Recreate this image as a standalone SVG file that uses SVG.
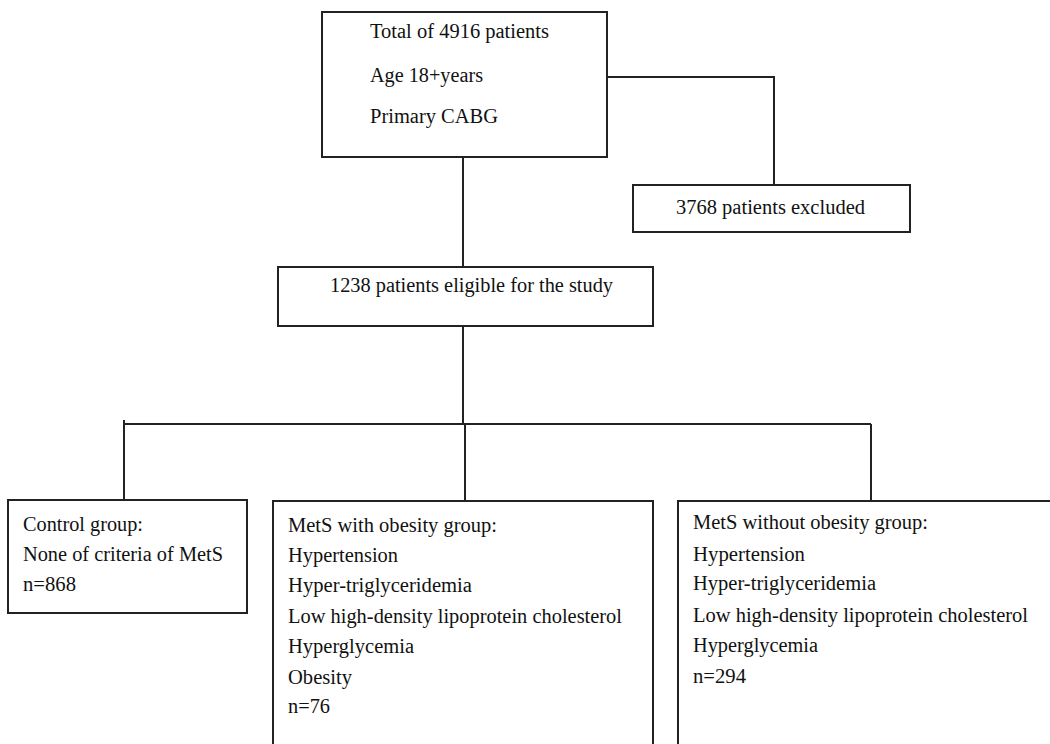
<svg xmlns="http://www.w3.org/2000/svg" width="1050" height="744" viewBox="0 0 1050 744">
<style>
.box{fill:#fff;stroke:#222;stroke-width:2}
.ln{fill:none;stroke:#222;stroke-width:2}
text{font-family:"Liberation Serif","Times New Roman",serif;font-size:20px;fill:#111}
</style>
<rect width="1050" height="744" fill="#fff"/>
<g id="connectors">
<polyline class="ln" points="607,77 774,77 774,185"/>
<line class="ln" x1="463" y1="157" x2="463" y2="267"/>
<line class="ln" x1="463" y1="326" x2="463" y2="424"/>
<line class="ln" x1="124" y1="424" x2="871" y2="424"/>
<line class="ln" x1="124" y1="420" x2="124" y2="500"/>
<line class="ln" x1="465" y1="424" x2="465" y2="501"/>
<line class="ln" x1="871" y1="424" x2="871" y2="501"/>
</g>
<g id="node-total">
<rect class="box" x="322" y="12" width="285" height="145"/>
<text x="370" y="38" textLength="179" lengthAdjust="spacingAndGlyphs">Total of 4916 patients</text>
<text x="370" y="82" textLength="113" lengthAdjust="spacingAndGlyphs">Age 18+years</text>
<text x="370" y="123" textLength="128" lengthAdjust="spacingAndGlyphs">Primary CABG</text>
</g>
<g id="node-excluded">
<rect class="box" x="633" y="185" width="277" height="47"/>
<text x="676" y="214" textLength="189" lengthAdjust="spacingAndGlyphs">3768 patients excluded</text>
</g>
<g id="node-eligible">
<rect class="box" x="278" y="267" width="375" height="59"/>
<text x="330" y="292" textLength="283" lengthAdjust="spacingAndGlyphs">1238 patients eligible for the study</text>
</g>
<g id="node-control">
<rect class="box" x="8" y="500" width="239" height="113"/>
<text x="23" y="531" textLength="120" lengthAdjust="spacingAndGlyphs">Control group:</text>
<text x="23" y="561" textLength="200" lengthAdjust="spacingAndGlyphs">None of criteria of MetS</text>
<text x="23" y="591" textLength="53" lengthAdjust="spacingAndGlyphs">n=868</text>
</g>
<g id="node-mets-obesity">
<rect class="box" x="273" y="501" width="380" height="260"/>
<text x="288" y="532" textLength="209" lengthAdjust="spacingAndGlyphs">MetS with obesity group:</text>
<text x="288" y="562" textLength="110" lengthAdjust="spacingAndGlyphs">Hypertension</text>
<text x="288" y="592" textLength="184" lengthAdjust="spacingAndGlyphs">Hyper-triglyceridemia</text>
<text x="288" y="623" textLength="334" lengthAdjust="spacingAndGlyphs">Low high-density lipoprotein cholesterol</text>
<text x="288" y="653" textLength="126" lengthAdjust="spacingAndGlyphs">Hyperglycemia</text>
<text x="288" y="684" textLength="64" lengthAdjust="spacingAndGlyphs">Obesity</text>
<text x="288" y="713" textLength="42" lengthAdjust="spacingAndGlyphs">n=76</text>
</g>
<g id="node-mets-no-obesity">
<rect class="box" x="678" y="501" width="390" height="260"/>
<text x="693" y="529" textLength="235" lengthAdjust="spacingAndGlyphs">MetS without obesity group:</text>
<text x="693" y="561" textLength="112" lengthAdjust="spacingAndGlyphs">Hypertension</text>
<text x="693" y="590" textLength="183" lengthAdjust="spacingAndGlyphs">Hyper-triglyceridemia</text>
<text x="693" y="622" textLength="335" lengthAdjust="spacingAndGlyphs">Low high-density lipoprotein cholesterol</text>
<text x="693" y="652" textLength="125" lengthAdjust="spacingAndGlyphs">Hyperglycemia</text>
<text x="693" y="683" textLength="53" lengthAdjust="spacingAndGlyphs">n=294</text>
</g>
</svg>
